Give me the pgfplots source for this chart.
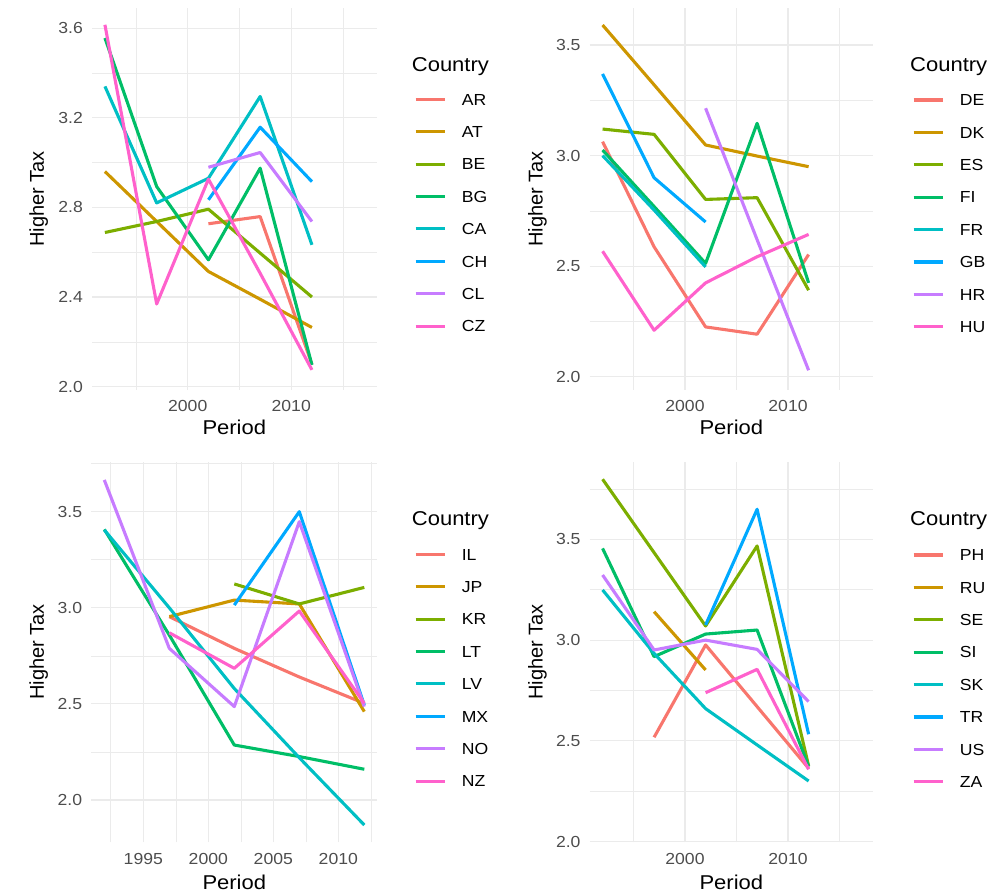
\documentclass[border=0pt]{standalone}
\usepackage{fontspec}
\setmainfont{Liberation Sans}[FakeStretch=1.1]
\newfontfamily\plainfont{Liberation Sans}
\usepackage{pgfplots}
\pgfplotsset{compat=1.18}
\definecolor{cA}{HTML}{F8766D}
\definecolor{cB}{HTML}{CD9600}
\definecolor{cC}{HTML}{7CAE00}
\definecolor{cD}{HTML}{00BE67}
\definecolor{cE}{HTML}{00BFC4}
\definecolor{cF}{HTML}{00A9FF}
\definecolor{cG}{HTML}{C77CFF}
\definecolor{cH}{HTML}{FF61CC}
\definecolor{gridc}{HTML}{EBEBEB}
\definecolor{tickc}{HTML}{4D4D4D}
\newcommand\titlefont{\fontsize{20}{24}\selectfont}
\newcommand\tickfont{\fontsize{16}{19}\selectfont}
\pgfplotsset{
 panel/.style={
  scale only axis, anchor=south west, clip mode=individual,
  axis line style={draw=none}, tick style={draw=none},
  major tick length=0pt, minor tick length=0pt,
  xmajorgrids, ymajorgrids, xminorgrids, yminorgrids,
  major grid style={gridc, line width=1.1pt},
  minor grid style={gridc, line width=0.6pt},
  /pgf/number format/assume math mode=true,
  /pgf/number format/1000 sep={},
  tick label style={font=\tickfont, text=tickc},
  yticklabel style={anchor=east, inner sep=0pt, xshift=-9pt, /pgf/number format/.cd, fixed, fixed zerofill, precision=1},
  xticklabel style={anchor=base, inner sep=0pt, yshift=-22pt},
  xlabel={Period}, ylabel={Higher Tax},
  label style={font=\titlefont},
  xlabel style={anchor=base},
  ylabel style={font=\plainfont\titlefont, anchor=base},
  every axis plot post/.append style={line width=3.1pt, line join=round, line cap=butt, mark=none},
  cycle list={{cA},{cB},{cC},{cD},{cE},{cF},{cG},{cH}},
  legend cell align=left,
  legend image code/.code={\draw[##1, line width=3.1pt, line cap=butt] (0pt,0pt) -- (29pt,0pt);},
  legend style={draw=none, fill=none, inner sep=0pt, outer sep=0pt, anchor=north west, row sep=20.9pt, font=\tickfont, nodes={inner sep=0pt, text height=11.5pt, text depth=0pt}, /tikz/every odd column/.append style={column sep=15.7pt}},
 },
}
\begin{document}
\begin{tikzpicture}
\useasboundingbox (0,0) rectangle (1007pt,892pt);
% ---------- Panel 1 ----------
\begin{axis}[panel, at={(92pt,502pt)}, width=284.6pt, height=382pt,
  xmin=1990.75, xmax=2018.25, ymin=1.985, ymax=3.69,
  xtick={2000,2010}, minor xtick={1995,2005,2015},
  ytick={2.0,2.4,2.8,3.2,3.6}, minor ytick={2.2,2.6,3.0,3.4},
  ylabel style={at={(axis description cs:-0.1687,0.5)}},
  xlabel style={at={(axis description cs:0.5,-0.1178)}},
  legend style={at={(axis description cs:1.1314,0.7760)}},
  legend entries={AR,AT,BE,BG,CA,CH,CL,CZ}]
\addplot coordinates {(2002,2.727)(2007,2.759)(2012,2.10)};
\addplot coordinates {(1992,2.96)(1997,2.737)(2002,2.514)(2007,2.39)(2012,2.264)};
\addplot coordinates {(1992,2.688)(1997,2.737)(2002,2.792)(2007,2.596)(2012,2.40)};
\addplot coordinates {(1992,3.556)(1997,2.893)(2002,2.566)(2007,2.975)(2012,2.097)};
\addplot coordinates {(1992,3.34)(1997,2.82)(2002,2.93)(2007,3.295)(2012,2.633)};
\addplot coordinates {(2002,2.834)(2007,3.158)(2012,2.915)};
\addplot coordinates {(2002,2.979)(2007,3.045)(2012,2.737)};
\addplot coordinates {(1992,3.615)(1997,2.369)(2002,2.926)(2007,2.506)(2012,2.075)};
\node[anchor=base west, inner sep=0pt, font=\titlefont] at (rel axis cs:1.1233,0.8332) {Country};
\end{axis}
% ---------- Panel 2 ----------
\begin{axis}[panel, at={(589.7pt,502pt)}, width=283.3pt, height=382pt,
  xmin=1990.75, xmax=2018.25, ymin=1.941, ymax=3.667,
  xtick={2000,2010}, minor xtick={1995,2005,2015},
  ytick={2.0,2.5,3.0,3.5}, minor ytick={2.25,2.75,3.25},
  ylabel style={at={(axis description cs:-0.1659,0.5)}},
  xlabel style={at={(axis description cs:0.5,-0.1178)}},
  legend style={at={(axis description cs:1.1377,0.7742)}},
  legend entries={DE,DK,ES,FI,FR,GB,HR,HU}]
\addplot coordinates {(1992,3.063)(1997,2.588)(2002,2.226)(2007,2.193)(2012,2.553)};
\addplot coordinates {(1992,3.59)(1997,3.32)(2002,3.048)(2007,2.998)(2012,2.95)};
\addplot coordinates {(1992,3.12)(1997,3.096)(2002,2.802)(2007,2.81)(2012,2.392)};
\addplot coordinates {(1992,3.025)(1997,2.77)(2002,2.513)(2007,3.146)(2012,2.425)};
\addplot coordinates {(1992,3.0)(1997,2.754)(2002,2.497)};
\addplot coordinates {(1992,3.369)(1997,2.9)(2002,2.70)};
\addplot coordinates {(2002,3.214)(2007,2.62)(2012,2.03)};
\addplot coordinates {(1992,2.568)(1997,2.211)(2002,2.425)(2007,2.543)(2012,2.644)};
\node[anchor=base west, inner sep=0pt, font=\titlefont] at (rel axis cs:1.1306,0.8332) {Country};
\end{axis}
% ---------- Panel 3 ----------
\begin{axis}[panel, at={(91.3pt,49.7pt)}, width=286pt, height=380.6pt,
  xmin=1991, xmax=2013, ymin=1.78, ymax=3.76,
  xtick={1995,2000,2005,2010}, minor xtick={1992.5,1997.5,2002.5,2007.5,2012.5},
  ytick={2.0,2.5,3.0,3.5}, minor ytick={2.25,2.75,3.25,3.75},
  ylabel style={at={(axis description cs:-0.1654,0.5)}},
  xlabel style={at={(axis description cs:0.5,-0.1235)}},
  legend style={at={(axis description cs:1.1283,0.7718)}},
  legend entries={IL,JP,KR,LT,LV,MX,NO,NZ}]
\addplot coordinates {(1997,2.954)(2002,2.789)(2007,2.64)(2012,2.503)};
\addplot coordinates {(1997,2.954)(2002,3.04)(2007,3.02)(2012,2.46)};
\addplot coordinates {(2002,3.124)(2007,3.02)(2012,3.106)};
\addplot coordinates {(1992,3.408)(1997,2.858)(2002,2.286)(2007,2.226)(2012,2.16)};
\addplot coordinates {(1992,3.405)(1997,3.0)(2002,2.58)(2007,2.22)(2012,1.87)};
\addplot coordinates {(2002,3.014)(2007,3.5)(2012,2.494)};
\addplot coordinates {(1992,3.665)(1997,2.789)(2002,2.486)(2007,3.448)(2012,2.486)};
\addplot coordinates {(1997,2.87)(2002,2.685)(2007,2.983)(2012,2.503)};
\node[anchor=base west, inner sep=0pt, font=\titlefont] at (rel axis cs:1.1203,0.8324) {Country};
\end{axis}
% ---------- Panel 4 ----------
\begin{axis}[panel, at={(589.7pt,49.7pt)}, width=283.3pt, height=380.6pt,
  xmin=1990.75, xmax=2018.25, ymin=1.997, ymax=3.885,
  xtick={2000,2010}, minor xtick={1995,2005,2015},
  ytick={2.0,2.5,3.0,3.5}, minor ytick={2.25,2.75,3.25,3.75},
  ylabel style={at={(axis description cs:-0.1659,0.5)}},
  xlabel style={at={(axis description cs:0.5,-0.1235)}},
  legend style={at={(axis description cs:1.1377,0.770)}},
  legend entries={PH,RU,SE,SI,SK,TR,US,ZA}]
\addplot coordinates {(1997,2.518)(2002,2.976)(2007,2.67)(2012,2.364)};
\addplot coordinates {(1997,3.141)(2002,2.852)};
\addplot coordinates {(1992,3.798)(1997,3.434)(2002,3.07)(2007,3.467)(2012,2.376)};
\addplot coordinates {(1992,3.455)(1997,2.918)(2002,3.03)(2007,3.05)(2012,2.372)};
\addplot coordinates {(1992,3.249)(1997,2.934)(2002,2.66)(2007,2.48)(2012,2.301)};
\addplot coordinates {(2002,3.075)(2007,3.649)(2012,2.533)};
\addplot coordinates {(1992,3.323)(1997,2.951)(2002,3.0)(2007,2.954)(2012,2.695)};
\addplot coordinates {(2002,2.739)(2007,2.855)(2012,2.359)};
\node[anchor=base west, inner sep=0pt, font=\titlefont] at (rel axis cs:1.1306,0.8324) {Country};
\end{axis}
\end{tikzpicture}
\end{document}
